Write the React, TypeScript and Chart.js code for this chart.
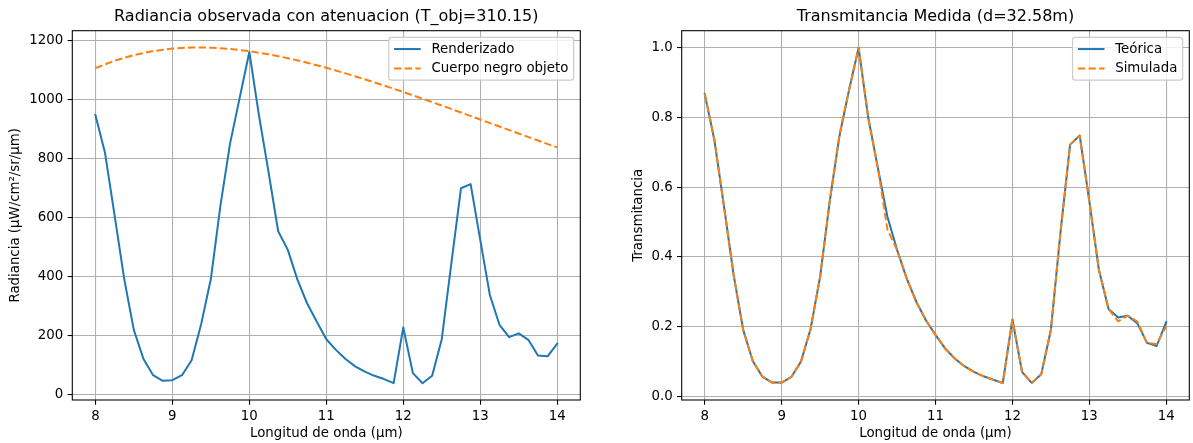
import React, { useEffect, useRef } from "react";
import { Chart, registerables } from "chart.js";

Chart.register(...registerables);

// ---------------- DATA ----------------
const wavelengths = [
  8, 8.125, 8.25, 8.375, 8.5, 8.625, 8.75, 8.875, 9, 9.125, 9.25, 9.375, 9.5,
  9.625, 9.75, 9.875, 10, 10.125, 10.25, 10.375, 10.5, 10.625, 10.75, 10.875,
  11, 11.125, 11.25, 11.375, 11.5, 11.625, 11.75, 11.875, 12, 12.125, 12.25,
  12.375, 12.5, 12.625, 12.75, 12.875, 13, 13.125, 13.25, 13.375, 13.5, 13.625,
  13.75, 13.875, 14,
];

const radianceRendered = [
  946, 818, 605, 390, 217, 119, 64, 45, 47, 64,
  115, 238, 390, 640, 850, 1005, 1160, 945, 752, 552,
  489, 388, 308, 246, 186, 150, 119, 94, 76, 62,
  51, 37, 226, 71, 37, 62, 186, 444, 698, 712,
  523, 336, 235, 193, 206, 184, 131, 128, 171,
];

const bbWavelengths = [
  8, 8.25, 8.5, 8.75, 9, 9.25, 9.5, 9.75, 10, 10.25, 10.5, 10.75, 11, 11.25,
  11.5, 11.75, 12, 12.25, 12.5, 12.75, 13, 13.25, 13.5, 13.75, 14,
];

const radianceBlackbody = [
  1105.2, 1130.3, 1149.4, 1163.0, 1171.4, 1175.1, 1174.5, 1170.3, 1162.7,
  1152.0, 1138.9, 1123.5, 1106.3, 1087.4, 1067.3, 1046.0, 1024.1, 1001.3,
  978.2, 954.6, 930.9, 907.1, 883.3, 859.6, 836.3,
];

const transTeorica = [
  0.867, 0.735, 0.545, 0.348, 0.19, 0.1, 0.056, 0.039, 0.039, 0.055,
  0.099, 0.192, 0.343, 0.56, 0.745, 0.878, 1.0, 0.8, 0.656, 0.515,
  0.42, 0.338, 0.271, 0.218, 0.176, 0.137, 0.108, 0.086, 0.07, 0.057,
  0.047, 0.038, 0.22, 0.07, 0.038, 0.063, 0.19, 0.47, 0.722, 0.748,
  0.56, 0.362, 0.25, 0.226, 0.231, 0.209, 0.153, 0.144, 0.213,
];

const transSimulada = [
  0.867, 0.735, 0.545, 0.348, 0.19, 0.1, 0.056, 0.039, 0.039, 0.055,
  0.099, 0.192, 0.343, 0.56, 0.75, 0.878, 1.0, 0.8, 0.656, 0.478,
  0.42, 0.338, 0.271, 0.218, 0.176, 0.137, 0.108, 0.086, 0.07, 0.057,
  0.047, 0.038, 0.22, 0.07, 0.038, 0.063, 0.19, 0.47, 0.722, 0.748,
  0.56, 0.362, 0.25, 0.215, 0.231, 0.214, 0.153, 0.15, 0.2,
];

const xTicks = [8, 9, 10, 11, 12, 13, 14];
const radianceTicks = [0, 200, 400, 600, 800, 1000, 1200];
const transTicks = [0, 0.2, 0.4, 0.6, 0.8, 1.0];

// ---------------- STYLE ----------------
const FONT = "'DejaVu Sans', sans-serif";
const BLUE = "#1f77b4";
const ORANGE = "#ff7f0e";
const FS = 13.33;
const H = 443;

const mplPlugin = {
  id: "mplFrameLegend",
  afterDatasetsDraw(chart: any) {
    const { ctx, chartArea: a } = chart;
    ctx.save();
    // frame (spines)
    ctx.setLineDash([]);
    ctx.strokeStyle = "#000";
    ctx.lineWidth = 1.07;
    ctx.strokeRect(a.left, a.top, a.right - a.left, a.bottom - a.top);

    // legend
    ctx.font = `${FS}px ${FONT}`;
    const items = chart.data.datasets.map((ds: any) => ({
      label: ds.label,
      color: ds.borderColor,
      dash: ds.borderDash || [],
    }));
    const textW = Math.max(...items.map((i: any) => ctx.measureText(i.label).width));
    const pad = 0.4 * FS;
    const handle = 2 * FS;
    const tpad = 0.8 * FS;
    const rowH = 12.7;
    const spacing = 0.5 * FS;
    const w = pad + handle + tpad + textW + pad;
    const h = 2 * pad + items.length * rowH + (items.length - 1) * spacing;
    const x0 = a.right - 0.5 * FS - w;
    const y0 = a.top + 0.5 * FS;
    const r = 0.2 * FS;
    ctx.beginPath();
    ctx.moveTo(x0 + r, y0);
    ctx.lineTo(x0 + w - r, y0);
    ctx.arcTo(x0 + w, y0, x0 + w, y0 + r, r);
    ctx.lineTo(x0 + w, y0 + h - r);
    ctx.arcTo(x0 + w, y0 + h, x0 + w - r, y0 + h, r);
    ctx.lineTo(x0 + r, y0 + h);
    ctx.arcTo(x0, y0 + h, x0, y0 + h - r, r);
    ctx.lineTo(x0, y0 + r);
    ctx.arcTo(x0, y0, x0 + r, y0, r);
    ctx.closePath();
    ctx.fillStyle = "rgba(255,255,255,0.8)";
    ctx.fill();
    ctx.strokeStyle = "#cccccc";
    ctx.lineWidth = 1.2;
    ctx.stroke();

    items.forEach((it: any, i: number) => {
      const cy = y0 + pad + rowH / 2 + i * (rowH + spacing);
      ctx.beginPath();
      ctx.setLineDash(it.dash);
      ctx.strokeStyle = it.color;
      ctx.lineWidth = 2;
      ctx.lineCap = "butt";
      ctx.moveTo(x0 + pad, cy);
      ctx.lineTo(x0 + pad + handle, cy);
      ctx.stroke();
      ctx.setLineDash([]);
      ctx.fillStyle = "#000";
      ctx.textBaseline = "middle";
      ctx.textAlign = "left";
      ctx.fillText(it.label, x0 + pad + handle + tpad, cy);
    });
    ctx.restore();
  },
};

function lineDataset(label: string, xs: number[], ys: number[], color: string, dashed: boolean, order: number) {
  return {
    label,
    data: xs.map((x, i) => ({ x, y: ys[i] })),
    borderColor: color,
    backgroundColor: color,
    borderWidth: 2,
    borderDash: dashed ? [7.4, 3.2] : [],
    borderJoinStyle: "round",
    borderCapStyle: dashed ? "butt" : "square",
    pointRadius: 0,
    tension: 0,
    fill: false,
    order,
  };
}

function makeConfig(p: {
  title: string;
  yTitle: string;
  datasets: any[];
  yMin: number;
  yMax: number;
  yTicks: number[];
  yFmt: (v: number) => string;
  yWidth: number;
  yTitlePad: number;
  rightPad: number;
}) {
  const tickFont = { family: FONT, size: FS };
  return {
    type: "line",
    data: { datasets: p.datasets },
    options: {
      animation: false,
      responsive: false,
      maintainAspectRatio: false,
      events: [],
      layout: { padding: { left: 0, right: p.rightPad, top: 0, bottom: 0 } },
      plugins: {
        legend: { display: false },
        tooltip: { enabled: false },
        title: {
          display: true,
          text: p.title,
          color: "#000",
          fullSize: false,
          font: { family: FONT, size: 16, weight: "normal", lineHeight: 1.2 },
          padding: { top: 7.3, bottom: 4.2 },
        },
      },
      scales: {
        x: {
          type: "linear",
          min: 7.7,
          max: 14.3,
          afterBuildTicks: (s: any) => {
            s.ticks = xTicks.map((v) => ({ value: v }));
          },
          afterFit: (s: any) => {
            s.height = 43;
          },
          ticks: {
            font: tickFont,
            color: "#000",
            padding: 4.2,
            autoSkip: false,
            maxRotation: 0,
            callback: (v: number) => String(v),
          },
          grid: {
            color: "#b0b0b0",
            lineWidth: 1.07,
            drawTicks: true,
            tickLength: 4.67,
            tickColor: "#000",
            tickWidth: 1.07,
          },
          border: { display: false },
          title: {
            display: true,
            text: "Longitud de onda (µm)",
            color: "#000",
            font: { family: FONT, size: FS, lineHeight: 1.2 },
            padding: { top: 0, bottom: 1.6 },
          },
        },
        y: {
          type: "linear",
          min: p.yMin,
          max: p.yMax,
          afterBuildTicks: (s: any) => {
            s.ticks = p.yTicks.map((v) => ({ value: v }));
          },
          afterFit: (s: any) => {
            s.width = p.yWidth;
          },
          ticks: {
            font: tickFont,
            color: "#000",
            padding: 4.4,
            autoSkip: false,
            callback: (v: number) => p.yFmt(v),
          },
          grid: {
            color: "#b0b0b0",
            lineWidth: 1.07,
            drawTicks: true,
            tickLength: 4.67,
            tickColor: "#000",
            tickWidth: 1.07,
          },
          border: { display: false },
          title: {
            display: true,
            text: p.yTitle,
            color: "#000",
            font: { family: FONT, size: FS, lineHeight: 1.2 },
            padding: { top: p.yTitlePad, bottom: 0 },
          },
        },
      },
    },
    plugins: [mplPlugin],
  };
}

function ChartCanvas({ build, left, width }: { build: () => any; left: number; width: number }) {
  const ref = useRef<HTMLCanvasElement | null>(null);
  useEffect(() => {
    const chart = new Chart(ref.current as HTMLCanvasElement, build());
    return () => chart.destroy();
  }, []);
  return (
    <canvas
      ref={ref}
      width={width}
      height={H}
      style={{ position: "absolute", left, top: 0, width, height: H, display: "block" }}
    />
  );
}

export default function App() {
  const buildLeft = () =>
    makeConfig({
      title: "Radiancia observada con atenuacion (T_obj=310.15)",
      yTitle: "Radiancia (µW/cm²/sr/µm)",
      datasets: [
        lineDataset("Renderizado", wavelengths, radianceRendered, BLUE, false, 1),
        lineDataset("Cuerpo negro objeto", bbWavelengths, radianceBlackbody, ORANGE, true, 0),
      ],
      yMin: -20,
      yMax: 1232,
      yTicks: radianceTicks,
      yFmt: (v) => String(Math.round(v)),
      yWidth: 72.3,
      yTitlePad: 8,
      rightPad: 15.7,
    });
  const buildRight = () =>
    makeConfig({
      title: "Transmitancia Medida (d=32.58m)",
      yTitle: "Transmitancia",
      datasets: [
        lineDataset("Teórica", wavelengths, transTeorica, BLUE, false, 1),
        lineDataset("Simulada", wavelengths, transSimulada, ORANGE, true, 0),
      ],
      yMin: -0.011,
      yMax: 1.049,
      yTicks: transTicks,
      yFmt: (v) => v.toFixed(1),
      yWidth: 85.7,
      yTitlePad: 34.5,
      rightPad: 3.7,
    });
  return (
    <div style={{ position: "absolute", left: 0, top: 0, width: 1193, height: H, background: "#fff", overflow: "hidden" }}>
      <ChartCanvas build={buildLeft} left={0} width={596} />
      <ChartCanvas build={buildRight} left={596} width={597} />
    </div>
  );
}
